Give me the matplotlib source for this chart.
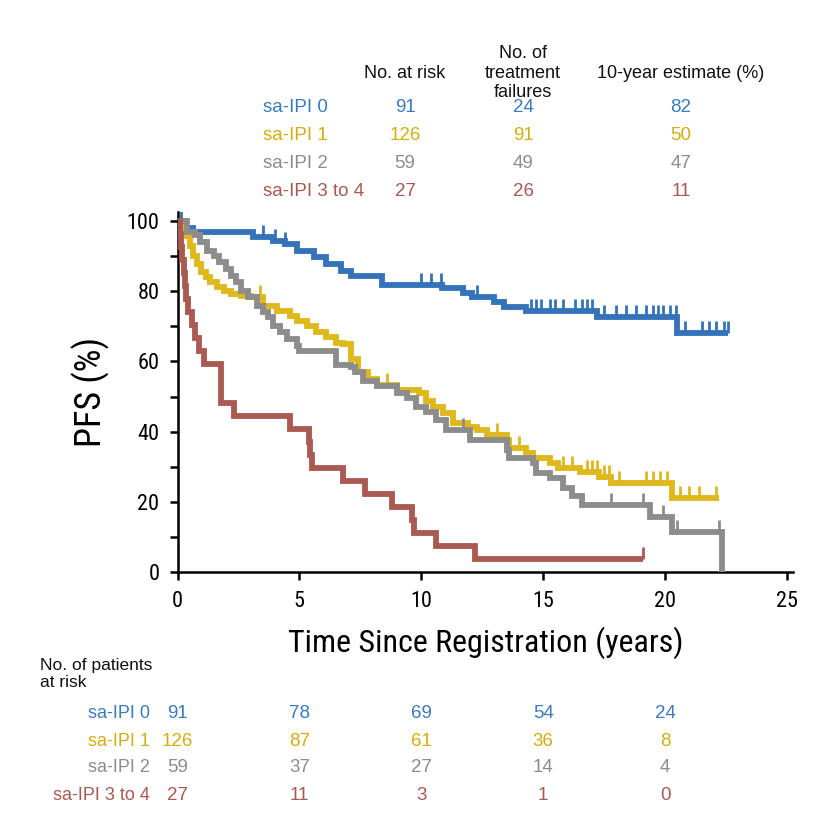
import matplotlib
matplotlib.use("Agg")
import matplotlib.pyplot as plt
import matplotlib.transforms as mtransforms
from matplotlib import font_manager
import numpy as np

# ---- data ----
groups = ["sa-IPI 0", "sa-IPI 1", "sa-IPI 2", "sa-IPI 3 to 4"]
n_at_risk = [91, 126, 59, 27]
n_failures = [24, 91, 49, 26]
est_10yr = [82, 50, 47, 11]

risk_years = [0, 5, 10, 15, 20]
risk_ipi0 = [91, 78, 69, 54, 24]
risk_ipi1 = [126, 87, 61, 36, 8]
risk_ipi2 = [59, 37, 27, 14, 4]
risk_ipi34 = [27, 11, 3, 1, 0]

# step curves: time of each step (years) and PFS after the step (%)
ipi0_t = [0, 0.35, 0.64, 3.1, 3.9, 4.4, 4.9, 5.6, 6.1, 6.7, 7.1, 8.4, 10.85,
          11.7, 12.1, 13.0, 13.4, 14.3, 17.2, 20.5, 22.6]
ipi0_s = [100, 98, 97, 95.4, 94.3, 93.4, 91.4, 89.7, 87.7, 85.7, 84.3, 81.7,
          80.9, 79.4, 78.3, 76.9, 75.4, 74.3, 72.6, 68, 68]
ipi0_cens = [0.15, 3.5, 4.0, 4.4, 10.0, 10.4, 10.8, 12.3, 14.5, 14.7, 14.9,
             15.3, 15.5, 15.8, 16.3, 16.6, 16.8, 17.0, 17.5, 18.0, 18.4, 18.8,
             19.2, 19.5, 19.7, 19.9, 20.2, 20.45, 20.8, 21.5, 21.8, 22.1, 22.4,
             22.6]

ipi1_t = [0, 0.3, 0.5, 0.65, 0.8, 0.95, 1.15, 1.35, 1.6, 1.9, 2.2, 2.6, 3.0,
          3.5, 4.1, 4.6, 4.9, 5.3, 5.7, 6.1, 6.5, 6.8, 7.1, 7.4, 7.8, 8.2, 9.0,
          9.9, 10.2, 10.5, 10.9, 11.3, 11.9, 12.3, 12.7, 13.5, 13.6, 14.3,
          14.6, 15.3, 15.6, 16.5, 17.3, 17.8, 20.3, 22.2]
ipi1_s = [100, 95.7, 92.9, 90, 87.7, 85.4, 84, 82.6, 81.1, 80, 79.1, 78.6,
          78.3, 75.7, 74.3, 72.9, 71.4, 70, 68.3, 66.9, 65.4, 64.9, 60.6, 57,
          54.9, 53.4, 52, 51, 48.6, 46.9, 45.4, 42.6, 41.4, 40.6, 39.1, 37.7,
          35.4, 34, 32.6, 31.1, 29.7, 28.6, 27.1, 25.4, 21.1, 21.1]
ipi1_cens = [3.4, 8.6, 13.1, 14.0, 15.8, 16.2, 16.8, 17.0, 17.2, 17.5, 17.7,
             18.1, 19.2, 19.5, 19.8, 20.1, 20.6, 21.0, 21.4, 22.1]

ipi2_t = [0, 0.4, 0.7, 0.92, 1.2, 1.5, 1.7, 2.0, 2.2, 2.4, 2.6, 2.9, 3.25,
          3.5, 3.7, 3.9, 4.2, 4.5, 4.9, 5.0, 6.5, 7.1, 7.3, 7.6, 8.2, 9.0, 9.4,
          9.8, 10.2, 10.6, 11.0, 12.0, 13.5, 13.6, 14.6, 14.7, 15.3, 15.8,
          16.2, 16.6, 19.4, 20.3, 22.35]
ipi2_s = [100, 97, 96, 94, 91.4, 90, 88.3, 86.3, 84.3, 82.6, 80, 78.3, 75.7,
          74, 72.6, 70, 68.3, 66.3, 64.3, 62.9, 59.1, 58.3, 56.9, 54.3, 52.9,
          51.1, 49.5, 47.1, 45.7, 43.4, 40.6, 37.7, 34.9, 32.6, 31.1, 28.3,
          26.9, 24, 21.6, 19.1, 15.7, 11.4, 0]
ipi2_cens = [11.7, 17.8, 19.1, 19.4, 19.9, 20.5, 22.2]

ipi34_t = [0, 0.1, 0.15, 0.2, 0.25, 0.3, 0.35, 0.45, 0.6, 0.7, 0.9, 1.08, 1.8,
           2.3, 4.6, 5.4, 5.45, 5.5, 6.8, 7.7, 8.8, 9.6, 9.7, 10.6, 12.2, 19.1]
ipi34_s = [100, 96.3, 92.6, 88.9, 85.2, 81.5, 77.8, 74.1, 70.4, 66.7, 63,
           59.3, 48.1, 44.4, 40.7, 37, 33.3, 29.6, 25.9, 22.2, 18.5, 14.8, 11.1,
           7.4, 3.7, 3.7]
ipi34_cens = [19.1]

curves = [(ipi0_t, ipi0_s, ipi0_cens), (ipi1_t, ipi1_s, ipi1_cens),
          (ipi2_t, ipi2_s, ipi2_cens), (ipi34_t, ipi34_s, ipi34_cens)]
risk_rows = [risk_ipi0, risk_ipi1, risk_ipi2, risk_ipi34]

line_colors = ["#3473ba", "#dfb81c", "#8c8c8c", "#aa5a52"]
text_colors = ["#3a7abf", "#d4ae10", "#8c8c8c", "#a85a52"]

# ---- fonts: look for a condensed face for the axis text ----
narrow, narrow_stretch = "DejaVu Sans", "normal"
fonts = font_manager.fontManager.ttflist
names = {f.name for f in fonts}
for cand in ["Roboto Condensed", "Liberation Sans Narrow", "Open Sans Condensed",
             "Noto Sans Condensed", "DejaVu Sans Condensed"]:
    if cand in names:
        narrow = cand
        break
else:
    if any(f.name == "DejaVu Sans" and f.stretch == "condensed" for f in fonts):
        narrow_stretch = "condensed"
    elif any(f.name == "Noto Sans" and f.stretch == "condensed" for f in fonts):
        narrow, narrow_stretch = "Noto Sans", "condensed"
    elif any(f.name == "Roboto" and f.stretch == "condensed" for f in fonts):
        narrow, narrow_stretch = "Roboto", "condensed"

plain = "Liberation Sans"
plt.rcParams["font.family"] = [plain, "DejaVu Sans"]

W, H = 819, 832
fig = plt.figure(figsize=(W / 100, H / 100), dpi=100)


def fx(px):
    return px / W


def fy(py):
    return 1 - py / H


ax = fig.add_axes([fx(177.5), fy(572), fx(793) - fx(177.5), fy(212) - fy(572)])

for (t, s, cens), col in zip(curves, line_colors):
    ax.step(t, s, where="post", color=col, lw=4.2, solid_joinstyle="miter",
            solid_capstyle="butt", zorder=3)
    idx = np.searchsorted(t, cens, side="right") - 1
    ys = np.asarray(s)[idx]
    ax.vlines(cens, ys, ys + 3.4, color=col, lw=2.0, zorder=3)

ax.set_xlim(0, 25.25)
ax.set_ylim(0, 102.6)
for side in ["top", "right"]:
    ax.spines[side].set_visible(False)
for side in ["left", "bottom"]:
    ax.spines[side].set_linewidth(1.8)
ax.set_xticks([0, 5, 10, 15, 20, 25])
ax.set_yticks([0, 20, 40, 60, 80, 100])
ax.set_yticks([10, 30, 50, 70, 90], minor=True)
ax.tick_params(axis="both", which="both", direction="out", width=1.8,
               labelsize=16, length=6)
ax.tick_params(axis="x", pad=8)
ax.tick_params(axis="y", pad=7)
for lab in ax.get_xticklabels() + ax.get_yticklabels():
    lab.set_family(narrow)
    lab.set_stretch(narrow_stretch)
ax.set_xlabel("Time Since Registration (years)", family=narrow,
              stretch=narrow_stretch, fontsize=23, labelpad=10)
ax.set_ylabel("PFS (%)", family=narrow, stretch=narrow_stretch, fontsize=26,
              labelpad=12)

# ---- header table ----
hdr_size = 13
fig.text(fx(405), fy(73), "No. at risk", ha="center", va="center",
         fontsize=hdr_size, color="#111111")
fig.text(fx(523), fy(73), "No. of\ntreatment\nfailures", ha="center", va="center",
         fontsize=hdr_size, linespacing=1.2, color="#111111")
fig.text(fx(681), fy(73), "10-year estimate (%)", ha="center", va="center",
         fontsize=hdr_size, color="#111111")
row_y = [108, 135.5, 163, 191]
for i, g in enumerate(groups):
    c = text_colors[i]
    fig.text(fx(263), fy(row_y[i]), g, ha="left", va="center", color=c, fontsize=13.5)
    fig.text(fx(405), fy(row_y[i]), str(n_at_risk[i]), ha="center", va="center",
             color=c, fontsize=13.5)
    fig.text(fx(523), fy(row_y[i]), str(n_failures[i]), ha="center", va="center",
             color=c, fontsize=13.5)
    fig.text(fx(681), fy(row_y[i]), str(est_10yr[i]), ha="center", va="center",
             color=c, fontsize=13.5)

# ---- number at risk table ----
fig.text(fx(40), fy(674), "No. of patients\nat risk", ha="left", va="center",
         fontsize=12.5, linespacing=1.2, color="#111111")
trans = mtransforms.blended_transform_factory(ax.transData, fig.transFigure)
bot_y = [713, 741, 768, 796]
for i, g in enumerate(groups):
    c = text_colors[i]
    fig.text(fx(150), fy(bot_y[i]), g, ha="right", va="center", color=c, fontsize=13)
    for yr, n in zip(risk_years, risk_rows[i]):
        ax.text(yr, fy(bot_y[i]), str(n), transform=trans, ha="center",
                va="center", color=c, fontsize=13.5, clip_on=False)

fig.savefig("out.png", dpi=100)
